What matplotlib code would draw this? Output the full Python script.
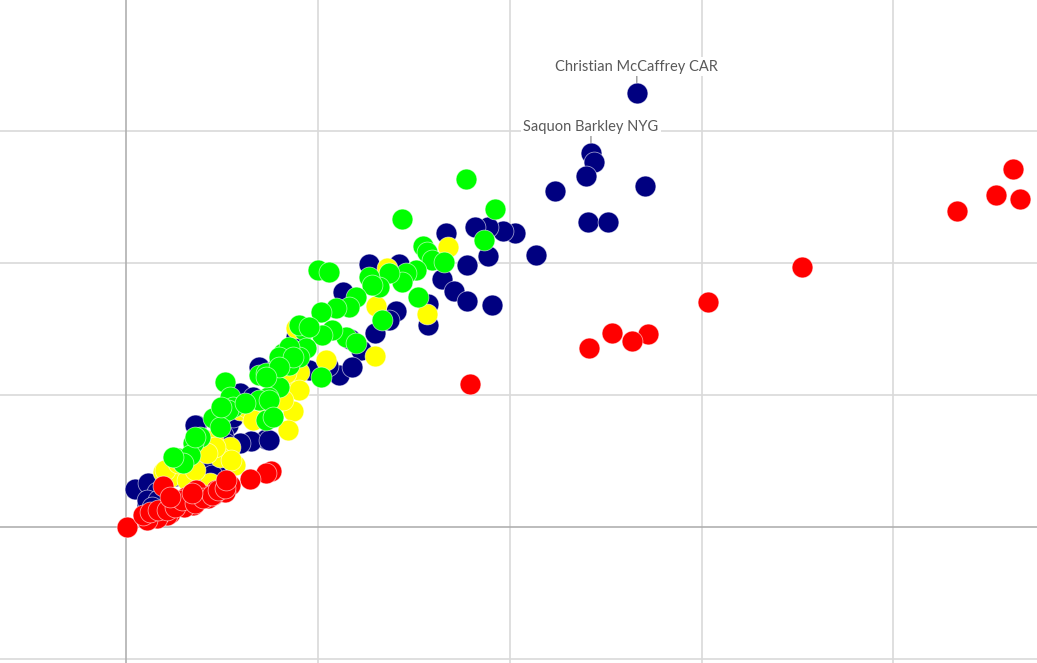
import matplotlib
matplotlib.use("Agg")
import matplotlib.pyplot as plt

# position groups, values (x units ~ grid step 100, y ~ grid step 100)
navy_x = [266.3, 242.4, 244.0, 239.8, 223.7, 270.5, 240.8, 251.2, 213.8, 202.9, 196.6, 188.8,
          182.1, 167.0, 188.8, 177.9, 164.9, 171.1, 177.9, 190.9, 157.6, 157.6, 142.5, 126.9,
          113.4, 141.0, 137.3, 130.0, 117.0, 111.3, 105.6, 122.8, 88.9, 69.7, 76.5, 118.1,
          57.7, 65.5, 73.9, 73.3, 65.5, 59.3, 53.1, 36.4, 37.5, 42.1, 52.0, 43.2, 29.6, 25.5,
          4.7, 13.5, 15.1, 18.7, 10.9, 20.8, 48.9, 43.7, 50.5,
          11.4, 16.1, 10.9, 16.6, 13.5, 41.1, 51.5, 74.9, 42.7, 51.5, 44.7, 35.9,
          95.7, 59.3, 66.1, 69.7, 55.7]
navy_y = [328.8, 283.3, 276.5, 265.9, 254.5, 258.3, 231.1, 231.1, 206.1, 222.7, 224.2, 227.3,
          227.3, 222.7, 205.3, 198.5, 187.9, 178.8, 171.2, 168.2, 168.9, 153.0, 199.2, 199.2,
          178.0, 163.6, 156.8, 147.0, 142.4, 115.2, 122.0, 134.1, 143.9, 121.2, 118.2, 121.2,
          100.0, 94.7, 90.2, 66.7, 65.2, 63.6, 77.3, 77.3, 68.2, 61.4, 43.2, 37.9, 43.9, 38.6,
          28.8, 32.6, 22.7, 25.8, 16.7, 18.9, 54.5, 50.8, 69.7,
          33.3, 26.5, 20.5, 20.5, 15.2, 65.9, 63.6, 65.9, 50.8, 43.2, 39.4, 77.3,
          118.9, 101.5, 98.5, 86.4, 83.3]

yellow_x = [168.0, 157.1, 130.6, 136.3, 88.9, 130.0, 86.9, 84.8, 86.9, 81.7, 83.7, 90.5,
            104.6, 71.3, 65.5, 59.3, 45.3, 42.1, 54.1, 30.7, 19.2, 22.9, 31.7, 56.7, 43.7,
            48.9, 90.5,
            20.3, 27.0, 32.2, 35.9, 55.1, 46.3, 42.1, 83.7, 62.9, 81.7, 66.1]
yellow_y = [212.1, 161.4, 167.4, 196.2, 150.8, 129.5, 87.9, 73.5, 111.4, 101.5, 118.9, 117.4,
            126.5, 90.9, 83.3, 88.6, 65.9, 60.6, 60.6, 47.0, 41.7, 37.9, 35.6, 47.0, 33.3,
            53.0, 103.8,
            43.2, 48.5, 49.2, 43.2, 50.8, 60.6, 56.1, 116.7, 90.9, 96.2, 81.1]

green_x = [177.4, 144.1, 192.5, 186.7, 155.0, 157.1, 159.7, 165.9, 151.4, 146.2, 144.1, 137.3,
           132.1, 126.9, 128.5, 100.4, 106.1, 120.2, 116.5, 109.8, 102.0, 152.4, 133.7, 115.0,
           120.2, 107.7, 102.5, 93.1, 102.0, 51.5, 69.7, 80.1, 86.9, 94.1, 90.5, 80.1, 73.9,
           54.1, 55.7, 50.5, 45.3, 73.3, 38.5, 34.9, 81.7, 73.3, 69.7, 53.1, 48.9, 27.0, 33.3,
           29.6, 61.9, 85.3,
           49.9, 35.9, 24.4, 90.5, 95.7, 85.3, 80.1, 86.9, 80.1, 73.3, 74.9, 76.5]
green_y = [263.6, 233.3, 240.9, 217.4, 212.9, 208.3, 202.3, 200.8, 194.7, 192.4, 185.6, 192.4,
           181.8, 189.4, 183.3, 194.7, 193.2, 174.2, 166.7, 165.9, 162.9, 174.2, 156.8, 143.9,
           139.4, 149.2, 145.5, 149.2, 113.6, 109.8, 115.2, 124.2, 134.1, 135.6, 128.8, 106.1,
           98.5, 98.5, 90.9, 86.4, 82.6, 81.1, 68.2, 63.6, 131.8, 116.7, 96.2, 88.6, 75.8,
           52.3, 54.5, 48.5, 93.9, 122.7,
           90.9, 68.2, 53.0, 153.0, 151.5, 136.4, 128.8, 128.8, 121.2, 113.6, 96.2, 83.3]

red_x = [462.4, 453.6, 466.1, 433.3, 352.1, 303.3, 253.3, 272.0, 263.7, 241.4, 179.5, 75.9,
         73.3, 65.0, 54.1, 51.5, 47.3, 45.3, 40.1, 36.4, 34.9, 27.0, 24.4, 22.9, 19.2, 21.3,
         17.7, 16.1, 10.9, 0.5, 31.2, 42.7, 30.2,
         8.8, 12.5, 16.6, 21.3, 25.5, 29.1, 35.9, 40.1, 44.7, 47.9, 51.5, 52.5, 22.9, 34.3]
red_y = [271.2, 251.5, 248.5, 239.4, 197.0, 170.5, 147.0, 146.2, 140.9, 135.6, 108.3, 42.4,
         40.9, 36.4, 31.8, 26.5, 28.0, 24.2, 24.2, 28.0, 16.7, 20.5, 18.2, 10.6, 31.1, 9.1,
         10.6, 6.8, 5.3, 0.0, 22.7, 22.0, 15.2,
         9.1, 11.4, 12.9, 12.9, 15.2, 20.5, 18.2, 22.0, 24.2, 28.0, 29.5, 35.6, 22.7, 25.8]

labels = ["Christian McCaffrey CAR", "Saquon Barkley NYG"]
label_x = [266.3, 242.4]
label_y = [328.8, 283.3]

fig = plt.figure(figsize=(10.37, 6.63), dpi=100)
ax = fig.add_axes([0, 0, 1, 1])

ax.set_xlim(-65.5, 474.8)
ax.set_ylim(-103.0, 399.2)

# grid, with darker zero lines
for gx in [100, 200, 300, 400]:
    ax.axvline(gx, color="#d9d9d9", lw=1.2, zorder=0)
for gy in [-100, 100, 200, 300]:
    ax.axhline(gy, color="#d9d9d9", lw=1.2, zorder=0)
ax.axvline(0, color="#b0b0b0", lw=1.2, zorder=0)
ax.axhline(0, color="#b0b0b0", lw=1.2, zorder=0)

size = 225
edge = (1, 1, 1, 0.6)
ax.scatter(navy_x, navy_y, s=size, c="#000080", edgecolors=edge, linewidths=0.6, zorder=2)
ax.scatter(yellow_x, yellow_y, s=size, c="#ffff00", edgecolors=edge, linewidths=0.6, zorder=2)
ax.scatter(green_x, green_y, s=size, c="#00ff00", edgecolors=edge, linewidths=0.6, zorder=2)
ax.scatter(red_x, red_y, s=size, c="#ff0000", edgecolors=edge, linewidths=0.6, zorder=2)

for name, lx, ly in zip(labels, label_x, label_y):
    ax.annotate(name, (lx, ly), xytext=(0, 19), textcoords="offset points",
                ha="center", va="center", fontsize=10.5, family="Lato", color="#595959",
                bbox=dict(boxstyle="square,pad=0.15", fc="white", ec="none"),
                arrowprops=dict(arrowstyle="-", color="#808080", lw=0.8,
                                shrinkA=0, shrinkB=7.5),
                zorder=3)

ax.set_xticks([])
ax.set_yticks([])
for sp in ax.spines.values():
    sp.set_visible(False)

plt.savefig("out.png", dpi=100)
